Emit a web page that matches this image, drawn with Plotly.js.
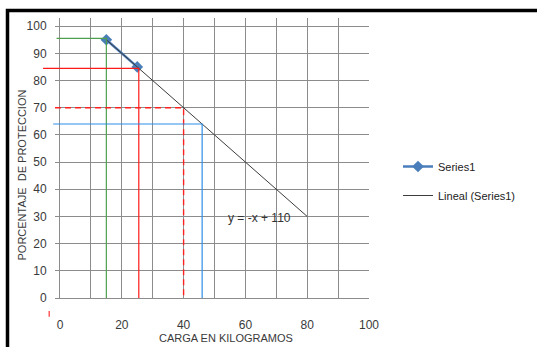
<!DOCTYPE html>
<html>
<head>
<meta charset="utf-8">
<script src="https://cdn.plot.ly/plotly-3.0.1.min.js"></script>
<style>html,body{margin:0;padding:0;background:#fff;}#chart{width:537px;height:347px;}</style>
</head>
<body>
<div id="chart"></div>
<script>
// Data
const seriesName = 'Series1';
const seriesX = [15, 25];
const seriesY = [95, 85];

const trendName = 'Lineal (Series1)';
const trendX = [15, 80];
const trendY = [95, 30];
const trendLabel = 'y = -x + 110';

// Reading guide lines (carga, porcentaje)
const greenX = [-1.1, 15, 15];
const greenY = [95.5, 95.5, 0];
const redX = [-5.5, 25.5, 25.5];
const redY = [84.5, 84.5, 0];
const redDashX = [-1.6, 40, 40];
const redDashY = [70, 70, 0];
const blueX = [-2.2, 46, 46];
const blueY = [64, 64, 0];
const redMarkX = [-3.5, -3.5];
const redMarkY = [-4.8, -6.9];

const xTickVals = [0, 20, 40, 60, 80, 100];
const xGridVals = [10, 20, 30, 40, 50, 60, 70, 80, 90];
const yTickVals = [0, 10, 20, 30, 40, 50, 60, 70, 80, 90, 100];

const xTitle = 'CARGA EN KILOGRAMOS';
const yTitle = 'PORCENTAJE  DE PROTECCION';

const FONT = 'Liberation Sans, Arial, sans-serif';
const TXT = '#3a3a3a';
const GRID = '#8c8c8c';

function guide(x, y, color, dash, w) {
  return {x: x, y: y, xaxis: 'x2', yaxis: 'y2', mode: 'lines', showlegend: false,
    hoverinfo: 'skip', line: {color: color, width: w || 1.2, dash: dash || 'solid'}};
}

const traces = [
  guide(greenX, greenY, '#4f9f4f'),
  guide(redX, redY, '#ff1a1a'),
  guide(redDashX, redDashY, '#ff2020', '6px,4px', 1.4),
  guide(blueX, blueY, '#2e8ee6'),
  guide(redMarkX, redMarkY, '#ff3333'),
  {x: seriesX, y: seriesY, name: seriesName, xaxis: 'x', yaxis: 'y', mode: 'lines+markers',
   legendgroup: 'a', line: {color: '#4a7ebb', width: 2.5},
   marker: {symbol: 'diamond', size: 9, color: '#4a7ebb'}},
  {x: trendX, y: trendY, name: trendName, xaxis: 'x', yaxis: 'y', mode: 'lines',
   legendgroup: 'b', line: {color: '#3c3c3c', width: 1}}
];

const L = 40, R = 537 - 369, T = 18, B = 30;
const plotW = 537 - L - R, plotH = 347 - T - B;
const xDomStart = (60 - L) / plotW;
const yDomStart = (317 - 298) / plotH;
const pxPerX = (plotW * (1 - xDomStart)) / 100;
const pxPerY = (plotH * (1 - yDomStart)) / 103;

const layout = {
  width: 537, height: 347,
  margin: {l: L, r: R, t: T, b: B, pad: 0},
  paper_bgcolor: '#ffffff', plot_bgcolor: 'rgba(0,0,0,0)',
  font: {family: FONT, size: 12, color: TXT},
  showlegend: true,
  legend: {x: (398 - L) / plotW, y: (317 - 152) / plotH, xanchor: 'left', yanchor: 'top',
    font: {family: FONT, size: 11, color: '#222'}, traceorder: 'grouped', tracegroupgap: 10,
    bgcolor: 'rgba(0,0,0,0)', borderwidth: 0},
  xaxis: {domain: [xDomStart, 1], range: [0, 100], anchor: 'y',
    tickmode: 'array', tickvals: xTickVals,
    showgrid: false,
    minor: {tickmode: 'array', tickvals: xGridVals, showgrid: true, gridcolor: GRID, gridwidth: 1, ticks: ''},
    showline: true, linecolor: GRID, linewidth: 1, zeroline: false,
    ticks: '', ticklabelstandoff: 16, tickfont: {family: FONT, size: 12, color: TXT}},
  yaxis: {domain: [yDomStart, 1], range: [0, 103], anchor: 'x',
    tickmode: 'array', tickvals: yTickVals,
    showgrid: true, gridcolor: GRID, gridwidth: 1,
    showline: true, linecolor: GRID, linewidth: 1, zeroline: false,
    ticks: 'outside', ticklen: 4, tickcolor: GRID, ticklabelstandoff: 6,
    tickfont: {family: FONT, size: 12, color: TXT}},
  xaxis2: {domain: [0, 1], range: [-(20 / pxPerX), 100], anchor: 'y2', visible: false, fixedrange: true},
  yaxis2: {domain: [0, 1], range: [-(19 / pxPerY), 103], anchor: 'x2', visible: false, fixedrange: true},
  annotations: [
    {xref: 'x', yref: 'y', x: 64.4, y: 29.4, text: trendLabel, showarrow: false,
     font: {family: FONT, size: 12, color: '#333'}},
    {xref: 'paper', yref: 'paper', x: (226 - L) / plotW, y: (317 - 338) / plotH,
     text: xTitle, showarrow: false, xanchor: 'center', yanchor: 'middle',
     font: {family: FONT, size: 11, color: TXT}},
    {xref: 'paper', yref: 'paper', x: (21 - L) / plotW, y: (317 - 175.5) / plotH,
     text: yTitle, showarrow: false, textangle: -90, xanchor: 'center', yanchor: 'middle',
     font: {family: FONT, size: 11, color: TXT}}
  ],
  shapes: [
    {type: 'rect', xref: 'paper', yref: 'paper', x0: (7.5 - L) / plotW, x1: 3,
     y0: -2, y1: (317 - 10.5) / plotH, line: {color: '#000', width: 3.5}, fillcolor: 'rgba(0,0,0,0)', layer: 'above'}
  ]
};

Plotly.newPlot('chart', traces, layout, {displayModeBar: false, staticPlot: true});
</script>
</body>
</html>
